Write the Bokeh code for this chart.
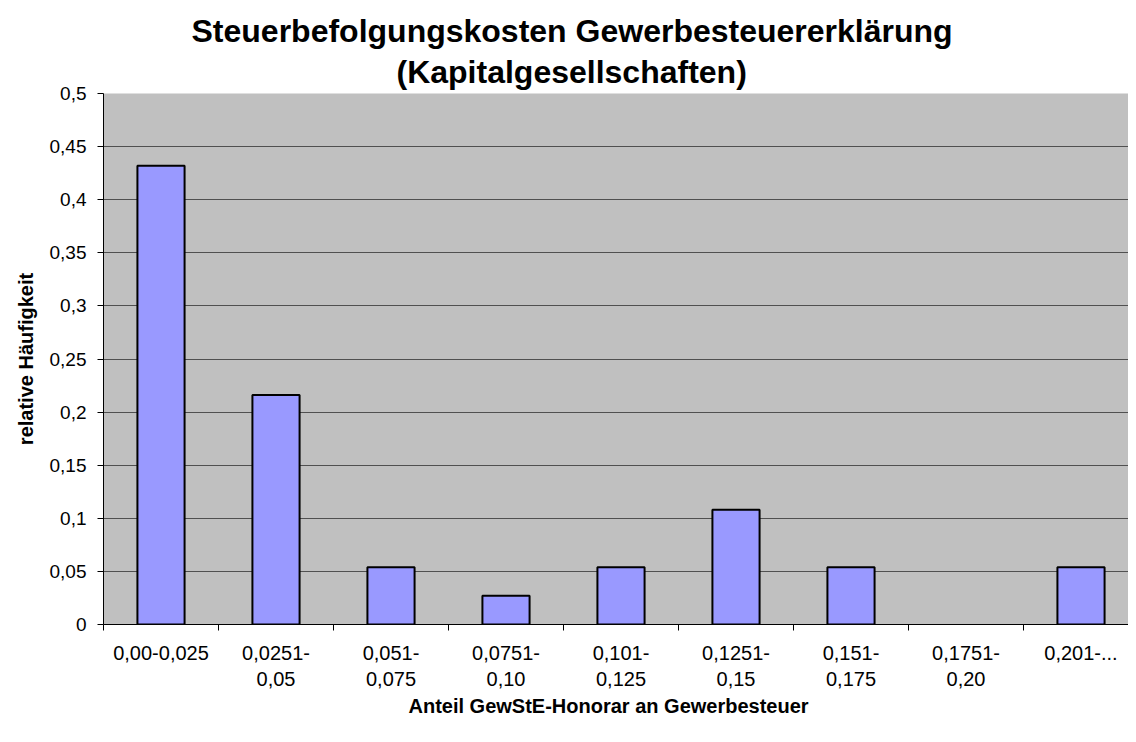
from bokeh.plotting import figure
from bokeh.models import FixedTicker, Title, ColumnDataSource, Range1d
from bokeh.embed import file_html
from bokeh.resources import INLINE

categories = ["0,00-0,025", "0,0251-\n0,05", "0,051-\n0,075", "0,0751-\n0,10", "0,101-\n0,125",
              "0,1251-\n0,15", "0,151-\n0,175", "0,1751-\n0,20", "0,201-..."]
values = [0.432, 0.216, 0.054, 0.027, 0.054, 0.108, 0.054, 0.0, 0.054]
y_ticks = [0, 0.05, 0.1, 0.15, 0.2, 0.25, 0.3, 0.35, 0.4, 0.45, 0.5]
y_labels = ["0", "0,05", "0,1", "0,15", "0,2", "0,25", "0,3", "0,35", "0,4", "0,45", "0,5"]

n = len(categories)
centers = [i + 0.5 for i in range(n)]

W, H = 1128, 726
LEFT, TOP, BOTTOM = 103, 93, 624
p = figure(width=W, height=H, output_backend="svg", toolbar_location=None,
           x_range=Range1d(0, (W - LEFT) / 115), y_range=Range1d(0, 0.5),
           min_border_left=LEFT, min_border_right=0, min_border_top=TOP,
           min_border_bottom=H - BOTTOM)
p.background_fill_color = "#C0C0C0"
p.border_fill_color = "white"
p.outline_line_color = None
p.title = None

src = ColumnDataSource(dict(x=centers, top=values,
                            lc=["black" if v > 0 else None for v in values]))
p.vbar(x="x", top="top", bottom=0, width=0.41, source=src,
       fill_color="#9999FF", line_color="lc", line_width=2)

# y axis
p.yaxis.ticker = FixedTicker(ticks=y_ticks, minor_ticks=[])
p.yaxis.major_label_overrides = {t: l for t, l in zip(y_ticks, y_labels)}
p.yaxis.major_label_text_font = "Liberation Sans"
p.yaxis.major_label_text_font_size = "19px"
p.yaxis.major_label_text_color = "black"
p.yaxis.major_tick_out = 6
p.yaxis.major_tick_in = 0
p.yaxis.major_tick_line_color = "black"
p.yaxis.axis_line_color = "black"
p.yaxis.axis_line_width = 1
p.yaxis.major_label_standoff = 11
p.yaxis.axis_label = "relative Häufigkeit"
p.yaxis.axis_label_text_font = "Liberation Sans"
p.yaxis.axis_label_text_font_size = "20px"
p.yaxis.axis_label_text_font_style = "bold"
p.yaxis.axis_label_text_color = "black"
p.yaxis.axis_label_standoff = 10

# x axis
p.xaxis.ticker = FixedTicker(ticks=centers, minor_ticks=list(range(n + 1)))
p.xaxis.major_label_overrides = {c: l for c, l in zip(centers, categories)}
p.xaxis.major_label_text_font = "Liberation Sans"
p.xaxis.major_label_text_font_size = "20px"
p.xaxis.major_label_text_color = "black"
p.xaxis.major_tick_out = 0
p.xaxis.major_tick_in = 0
p.xaxis.minor_tick_out = 6
p.xaxis.minor_tick_in = 0
p.xaxis.minor_tick_line_color = "black"
p.xaxis.axis_line_color = "black"
p.xaxis.major_label_standoff = 11

# grid
p.xgrid.grid_line_color = None
p.ygrid.ticker = FixedTicker(ticks=y_ticks)
p.ygrid.grid_line_color = "#505050"
p.ygrid.grid_line_width = 1

# x axis title
p.add_layout(Title(text="Anteil GewStE-Honorar an Gewerbesteuer", align="left", offset=305,
                   text_font="Liberation Sans", text_font_size="20px", text_font_style="bold",
                   text_color="black", standoff=0), "below")

# chart title (two lines)
p.add_layout(Title(text="(Kapitalgesellschaften)", align="left", offset=293,
                   text_font="Liberation Sans", text_font_size="32px", text_font_style="bold",
                   text_color="black", standoff=8), "above")
p.add_layout(Title(text="Steuerbefolgungskosten Gewerbesteuererklärung", align="left", offset=88,
                   text_font="Liberation Sans", text_font_size="32px", text_font_style="bold",
                   text_color="black", standoff=-3), "above")

open("out.html", "w").write(file_html(p, INLINE))
